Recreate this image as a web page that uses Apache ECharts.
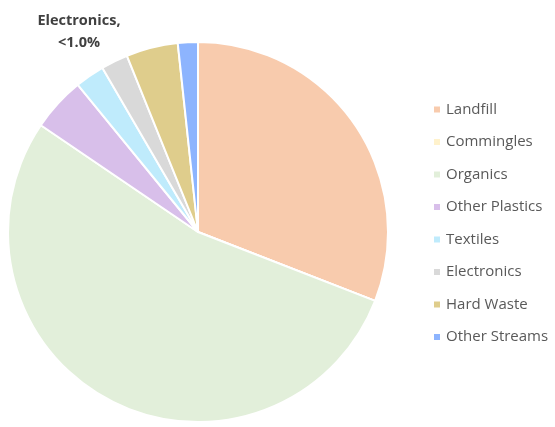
<!DOCTYPE html>
<html><head><meta charset="utf-8">
<script src="https://cdn.jsdelivr.net/npm/echarts@6/dist/echarts.min.js"></script>
<style>html,body{margin:0;padding:0;background:#fff}#c{width:555px;height:427px}</style>
</head><body><div id="c"></div>
<script>
const categories = ["Landfill","Commingles","Organics","Other Plastics","Textiles","Electronics","Hard Waste","Other Streams"];
const values = [30.9, 0, 53.6, 4.6, 2.5, 2.3, 4.4, 1.7];
const colors = ["#F8CBAD","#FFF2CC","#E2EFDA","#D8BFEA","#BFEBFC","#D9D9D9","#DFCD8C","#8DB4FE"];
const annotationLines = ["Electronics,", "<1.0%"];

const chart = echarts.init(document.getElementById('c'));
chart.setOption({
  animation: false,
  color: colors,
  legend: {
    orient: 'vertical', left: 427, top: 97,
    itemWidth: 8, itemHeight: 8, itemGap: 17.5, icon: 'rect',
    textStyle: {fontFamily: 'Open Sans', fontSize: 15, color: '#595959'},
    data: categories
  },
  graphic: [{
    type: 'text', x: 79, y: 10,
    style: {text: annotationLines.join('\n'), fontFamily: 'Open Sans', fontWeight: 'bold', fontSize: 14.5, lineHeight: 22, fill: '#404040', align: 'center'}
  }],
  series: [{
    type: 'pie', center: [198, 232], radius: 190, startAngle: 90, clockwise: true,
    label: {show: false}, labelLine: {show: false},
    itemStyle: {borderColor: '#fff', borderWidth: 2},
    emphasis: {disabled: true},
    data: categories.map((n, i) => ({name: n, value: values[i]}))
  }]
});
</script></body></html>
